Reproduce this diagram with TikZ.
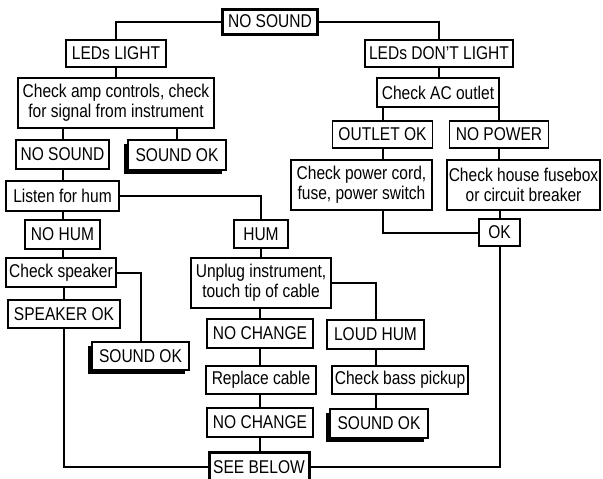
\documentclass[tikz,border=0pt]{standalone}
\usepackage{fontspec}
\setmainfont{Liberation Sans}[FakeStretch=0.84]
\usetikzlibrary{shadows}
\begin{document}
\begin{tikzpicture}[x=1pt,y=-1pt,
  box/.style={draw, line width=1.2pt, fill=white, inner sep=0pt, align=center, font=\fontsize{18.5}{20}\selectfont},
  wh/.style 2 args={minimum width=#1, minimum height=#2},
  thickbox/.style={box, line width=3pt},
  shadowbox/.style={box, drop shadow={shadow xshift=-4pt, shadow yshift=-4pt, fill=black, opacity=1}},
  conn/.style={draw, line width=2pt}]
\clip (0,0) rectangle (603,479);
\fill[white] (0,0) rectangle (603,479);
% left branch
\node[thickbox, wh={95}{25}] (top) at (270,21.5) {NO SOUND};
\node[box, wh={100}{27}] (ledslight) at (116,53.5) {LEDs LIGHT};
\node[box, wh={196}{50}] (checkamp) at (116,103) {Check amp controls, check\\for signal from instrument};
\node[box, wh={93}{29}] (nosoundL) at (62.5,154.5) {NO SOUND};
\node[shadowbox, wh={98}{30}] (soundok1) at (177,155) {SOUND OK};
\node[box, wh={113}{30}] (listen) at (62.5,196) {Listen for hum};
\node[box, wh={75}{29}] (nohum) at (62.5,234.5) {NO HUM};
\node[box, wh={54}{28}] (hum) at (261,234) {HUM};
\node[box, wh={110}{29}] (speaker) at (61,272.5) {Check speaker};
\node[box, wh={112}{28}] (speakerok) at (64,314) {SPEAKER OK};
\node[shadowbox, wh={97}{28}] (soundok2) at (140.5,356) {SOUND OK};
\node[box, wh={140}{50}] (unplug) at (261,283) {Unplug instrument,\\touch tip of cable};
\node[box, wh={106}{29}] (nochange1) at (260,333.5) {NO CHANGE};
\node[box, wh={110}{28}] (replace) at (261,380) {Replace cable};
\node[box, wh={106}{29}] (nochange2) at (260,422.5) {NO CHANGE};
\node[thickbox, wh={100}{30}] (seebelow) at (259,467) {SEE BELOW};
% right branch
\node[box, wh={148}{27}] (ledsdont) at (439,53.5) {LEDs DON'T LIGHT};
\node[box, wh={122}{29}] (acoutlet) at (438,92.5) {Check AC outlet};
\node[box, wh={100}{27}] (outletok) at (382.5,134.5) {OUTLET OK};
\node[box, wh={99}{27}] (nopower) at (499,134.5) {NO POWER};
\node[box, wh={141}{50}] (powercord) at (361.5,185) {Check power cord,\\fuse, power switch};
\node[box, wh={153}{50}] (fusebox) at (523.5,185) {Check house fusebox\\or circuit breaker};
\node[box, wh={41}{27}] (ok) at (499.5,232.5) {OK};
\node[box, wh={97}{29}] (loudhum) at (375.5,334.5) {LOUD HUM};
\node[box, wh={136}{28}] (basspickup) at (400,380) {Check bass pickup};
\node[shadowbox, wh={98}{29}] (soundok3) at (379,423.5) {SOUND OK};
% connectors
\draw[conn] (top.west) -| (ledslight.north);
\draw[conn] (top.east) -| (ledsdont.north);
\draw[conn] (ledslight.south) -- (ledslight.south |- checkamp.north);
\draw[conn] (nosoundL.north |- checkamp.south) -- (nosoundL.north);
\draw[conn] (soundok1.north |- checkamp.south) -- (soundok1.north);
\draw[conn] (nosoundL.south) -- (nosoundL.south |- listen.north);
\draw[conn] (listen.east) -| (hum.north);
\draw[conn] (listen.south) -- (nohum.north);
\draw[conn] (nohum.south) -- (nohum.south |- speaker.north);
\draw[conn] (speaker.east) -| (soundok2.north);
\draw[conn] (speakerok.north |- speaker.south) -- (speakerok.north);
\draw[conn] (speakerok.south) |- (seebelow.west);
\draw[conn] (hum.south) -- (hum.south |- unplug.north);
\draw[conn] (nochange1.north |- unplug.south) -- (nochange1.north);
\draw[conn] (nochange1.south) -- (nochange1.south |- replace.north);
\draw[conn] (nochange2.north |- replace.south) -- (nochange2.north);
\draw[conn] (nochange2.south) -- (nochange2.south |- seebelow.north);
\draw[conn] (unplug.east) -| (loudhum.north);
\draw[conn] (loudhum.south) -- (loudhum.south |- basspickup.north);
\draw[conn] (loudhum.south |- basspickup.south) -- (loudhum.south |- soundok3.north);
\draw[conn] (ledsdont.south) -- (ledsdont.south |- acoutlet.north);
\draw[conn] (outletok.north |- acoutlet.south) -- (outletok.north);
\draw[conn] (nopower.north |- acoutlet.south) -- (nopower.north);
\draw[conn] (outletok.south) -- (outletok.south |- powercord.north);
\draw[conn] (nopower.south) -- (nopower.south |- fusebox.north);
\draw[conn] (outletok.south |- powercord.south) |- (ok.west);
\draw[conn] (ok.north |- fusebox.south) -- (ok.north);
\draw[conn] (ok.south) |- (seebelow.east);
\end{tikzpicture}
\end{document}
